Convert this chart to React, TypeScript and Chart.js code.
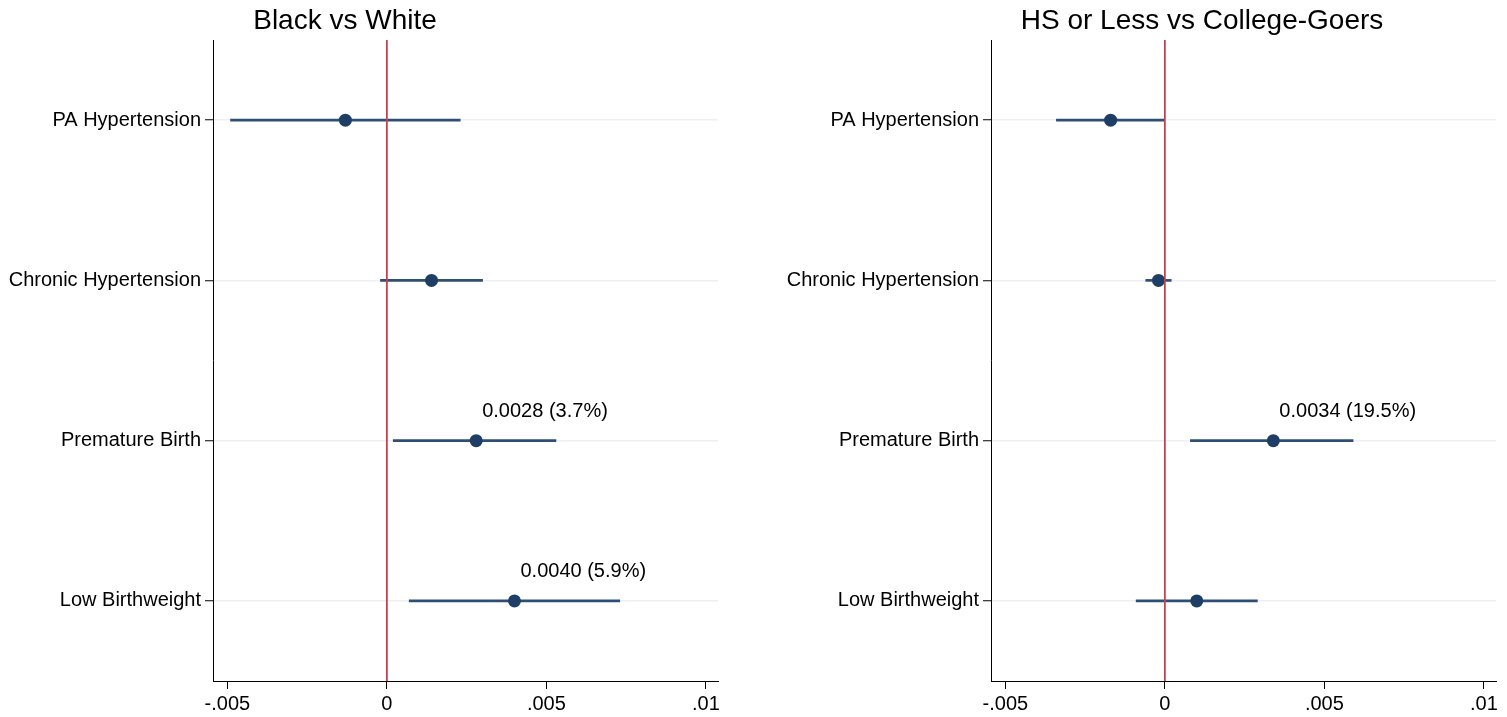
import React, { useEffect, useRef } from 'react';
import { Chart, registerables } from 'chart.js';

Chart.register(...registerables);

const FONT = "'Liberation Sans', Arial, Helvetica, sans-serif";

const categories = ['PA Hypertension', 'Chronic Hypertension', 'Premature Birth', 'Low Birthweight'];

const xTicks = [-0.005, 0, 0.005, 0.01];
const xTickLabels = ['-.005', '0', '.005', '.01'];

// Black vs White
const bwEst = [-0.0013, 0.0014, 0.0028, 0.004];
const bwLo = [-0.0049, -0.0002, 0.0002, 0.0007];
const bwHi = [0.0023, 0.003, 0.0053, 0.0073];
const bwLabels = ['', '', '0.0028 (3.7%)', '0.0040 (5.9%)'];

// HS or Less vs College-Goers
const edEst = [-0.0017, -0.0002, 0.0034, 0.001];
const edLo = [-0.0034, -0.0006, 0.0008, -0.0009];
const edHi = [0.0, 0.0002, 0.0059, 0.0029];
const edLabels = ['', '', '0.0034 (19.5%)', ''];

const zeroLine = {
  id: 'zeroLine',
  afterDatasetsDraw(chart: any) {
    const { ctx, chartArea, scales } = chart;
    const x = scales.x.getPixelForValue(0);
    ctx.save();
    ctx.strokeStyle = '#c8404f';
    ctx.lineWidth = 1.8;
    ctx.beginPath();
    ctx.moveTo(x, chartArea.top);
    ctx.lineTo(x, chartArea.bottom);
    ctx.stroke();
    ctx.restore();
  },
};

const estLabels = {
  id: 'estLabels',
  afterDatasetsDraw(chart: any, _args: any, opts: any) {
    const { ctx, scales } = chart;
    const pts = chart.data.datasets[1].data;
    ctx.save();
    ctx.font = `20px ${FONT}`;
    ctx.fillStyle = '#000';
    ctx.textAlign = 'left';
    ctx.textBaseline = 'middle';
    (opts.labels || []).forEach((t: string, i: number) => {
      if (!t) return;
      const x = scales.x.getPixelForValue(pts[i].x);
      const y = scales.y.getPixelForValue(i);
      ctx.fillText(t, x + 6, y - 29);
    });
    ctx.restore();
  },
};

const panelTitle = {
  id: 'panelTitle',
  afterDraw(chart: any, _args: any, opts: any) {
    const { ctx } = chart;
    ctx.save();
    ctx.font = `28px ${FONT}`;
    ctx.fillStyle = '#000';
    ctx.textAlign = 'center';
    ctx.textBaseline = 'alphabetic';
    ctx.fillText(opts.text, opts.x, 29);
    ctx.restore();
  },
};

type PanelProps = {
  title: string;
  titleX: number;
  est: number[];
  lo: number[];
  hi: number[];
  labels: string[];
  left: number;
  width: number;
  yAxisWidth: number;
  padRight: number;
};

function Panel(p: PanelProps) {
  const ref = useRef<HTMLCanvasElement | null>(null);
  useEffect(() => {
    if (!ref.current) return;
    const chart = new Chart(ref.current, {
      type: 'bar',
      data: {
        labels: categories,
        datasets: [
          {
            type: 'bar',
            data: p.lo.map((l, i) => [l, p.hi[i]]) as any,
            backgroundColor: '#2e4e76',
            borderWidth: 0,
            barThickness: 2,
            indexAxis: 'y',
            order: 2,
          } as any,
          {
            type: 'line',
            data: p.est.map((v, i) => ({ x: v, y: categories[i] })) as any,
            showLine: false,
            pointRadius: 6.5,
            pointHoverRadius: 6.5,
            pointBackgroundColor: '#1f3e66',
            pointBorderWidth: 0,
            indexAxis: 'y',
            order: 1,
          } as any,
        ],
      },
      options: {
        animation: false,
        responsive: false,
        devicePixelRatio: 1,
        indexAxis: 'y',
        layout: { padding: { top: 40, right: p.padRight, left: 0, bottom: 0 } },
        plugins: {
          legend: { display: false },
          tooltip: { enabled: false },
          title: { display: false },
          estLabels: { labels: p.labels },
          panelTitle: { text: p.title, x: p.titleX },
        } as any,
        scales: {
          x: {
            type: 'linear',
            min: -0.00545,
            max: 0.01038,
            afterBuildTicks: (s: any) => {
              s.ticks = xTicks.map((v) => ({ value: v }));
            },
            afterFit: (s: any) => {
              s.height = 36;
            },
            ticks: {
              callback: (_v: any, i: number) => xTickLabels[i],
              font: { size: 20, family: FONT },
              color: '#000',
              padding: 3,
              maxRotation: 0,
              autoSkip: false,
            },
            grid: {
              drawOnChartArea: false,
              tickLength: 8,
              tickColor: '#000',
              tickWidth: 1,
            },
            border: { color: '#000', width: 1 },
          },
          y: {
            type: 'category',
            labels: categories,
            offset: true,
            afterFit: (s: any) => {
              s.width = p.yAxisWidth;
            },
            ticks: {
              font: { size: 20, family: FONT },
              color: '#000',
              padding: 4,
              autoSkip: false,
            },
            grid: {
              offset: false,
              color: '#ecf0f4',
              lineWidth: 1.5,
              tickColor: '#000',
              tickLength: 8,
              tickWidth: 1,
            },
            border: { color: '#000', width: 1 },
          },
        } as any,
      },
      plugins: [zeroLine, estLabels, panelTitle],
    });
    return () => chart.destroy();
  }, []);
  return (
    <canvas
      ref={ref}
      width={p.width}
      height={717}
      style={{ position: 'absolute', left: p.left, top: 0, width: p.width, height: 717 }}
    />
  );
}

export default function App() {
  return (
    <div style={{ position: 'absolute', left: 0, top: 0, width: 1507, height: 717, background: '#fff', overflow: 'hidden' }}>
      <Panel
        title="Black vs White"
        titleX={345}
        est={bwEst}
        lo={bwLo}
        hi={bwHi}
        labels={bwLabels}
        left={0}
        width={745}
        yAxisWidth={213}
        padRight={27}
      />
      <Panel
        title="HS or Less vs College-Goers"
        titleX={442}
        est={edEst}
        lo={edLo}
        hi={edHi}
        labels={edLabels}
        left={760}
        width={747}
        yAxisWidth={231}
        padRight={11}
      />
    </div>
  );
}
